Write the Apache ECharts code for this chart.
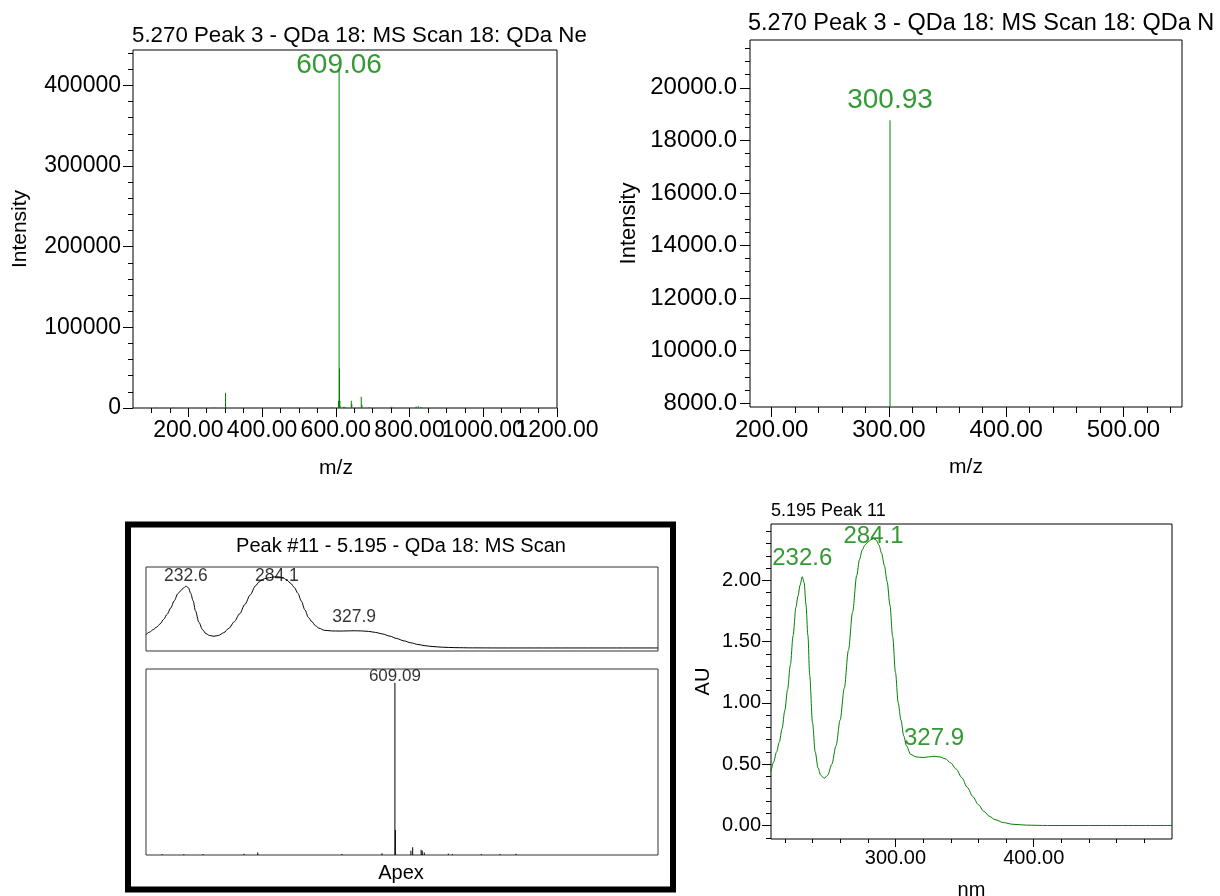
<!DOCTYPE html>
<html>
<head>
<meta charset="utf-8">
<title>QDa MS scan and PDA spectrum</title>
<script src="https://cdn.jsdelivr.net/npm/echarts@6/dist/echarts.min.js"></script>
<style>
  html, body { margin: 0; padding: 0; background: #ffffff; }
  #chart { width: 1220px; height: 896px; }
</style>
</head>
<body>
<div id="chart"></div>
<script>
// ---- MS scan 18, peak 3 at 5.270 min (centroided ions) ----
const scanMz = [113.0, 160.2, 270.1, 300.93, 301.9, 497.2, 590.1, 607.1, 609.06, 610.06, 611.06, 612.1,
  620.0, 625.1, 642.0, 643.5, 669.1, 671.0, 690.2, 750.1, 752.3, 818.0, 824.1, 830.2];
const scanIntensity = [600, 700, 800, 18765, 1500, 600, 900, 9000, 421000, 49000, 9000, 2000,
  1500, 1500, 9000, 5000, 14000, 4000, 1200, 1500, 1200, 2000, 2200, 1200];
const overviewLabelMz = [609.06];
const zoomLabelMz = [300.93];

// ---- Apex MS scan, peak #11 at 5.195 min (relative intensity) ----
const apexMz = [86.0, 135.0, 178.0, 270.0, 301.0, 490.0, 580.0, 609.09, 610.09, 645.0, 649.0,
  668.0, 670.5, 675.0, 729.0, 738.0, 803.0, 845.0, 881.0];
const apexIntensity = [0.5, 0.5, 0.5, 0.7, 1.5, 0.6, 1.0, 100, 14.5, 2.5, 4.5,
  3.0, 2.5, 1.5, 0.8, 0.5, 0.5, 0.6, 0.7];
const apexLabelMz = [609.09];

// ---- PDA spectrum of peak 11 at 5.195 min ----
const uvNm = [210, 212, 214, 216, 218, 220, 222, 224, 226, 228, 229.5, 231, 232.6, 234, 235.3, 236.7,
  238, 240, 242, 244, 246, 248.5, 251, 254, 257, 260, 263, 266, 269, 272, 274, 276, 278, 280, 282,
  284.1, 286, 288, 290, 292, 294, 296, 298, 300, 302, 304, 306, 308, 311, 315, 320, 324, 327.9, 332,
  336, 340, 344, 348, 352, 356, 360, 364, 368, 372, 378, 385, 395, 410, 450, 500];
const uvAu = [0.44, 0.52, 0.60, 0.68, 0.79, 0.94, 1.11, 1.31, 1.55, 1.78, 1.87, 1.96, 2.03, 1.98, 1.80, 1.55,
  1.22, 0.84, 0.60, 0.47, 0.41, 0.385, 0.41, 0.50, 0.65, 0.86, 1.12, 1.43, 1.74, 2.04, 2.17, 2.25, 2.29, 2.31, 2.33,
  2.34, 2.33, 2.29, 2.22, 2.12, 1.99, 1.80, 1.54, 1.25, 1.00, 0.86, 0.73, 0.65, 0.58, 0.56, 0.555, 0.56, 0.565, 0.56,
  0.545, 0.51, 0.46, 0.39, 0.31, 0.235, 0.17, 0.115, 0.075, 0.048, 0.024, 0.01, 0.003, 0.0, 0.0, 0.0];
const uvPeakNm = [232.6, 284.1, 327.9];

// ---- Axis ranges and tick values ----
const overviewMzRange = [50, 1200];
const overviewIntensityRange = [0, 444000];
const overviewMzTicks = [200, 400, 600, 800, 1000, 1200];
const overviewIntensityTicks = [0, 100000, 200000, 300000, 400000];

const zoomMzRange = [181.5, 550];
const zoomIntensityRange = [7850, 21820];
const zoomMzTicks = [200, 300, 400, 500];
const zoomIntensityTicks = [8000, 10000, 12000, 14000, 16000, 18000, 20000];

const apexMzRange = [50, 1200];
const apexIntensityRange = [0, 108];
const insetAuRange = [-0.1, 2.66];

const uvNmRange = [210, 500];
const uvAuRange = [-0.11, 2.46];
const uvNmTicks = [300, 400];
const uvAuTicks = [0, 0.5, 1.0, 1.5, 2.0];

// ---- Drawing ----
const FONT = 'Liberation Sans, Arial, Helvetica, sans-serif';
const GREEN = '#008000';

function steps(from, to, step) {
  const out = [];
  for (let v = from; v <= to + step * 1e-6; v += step) out.push(Math.round(v * 1e6) / 1e6);
  return out;
}

function lookup(xs, ys, x) { return ys[xs.indexOf(x)]; }

const everyOther = (arr, start) => arr.filter((v, i) => i % 2 === start);

function mainAxis(gridIndex, range, ticks, fmt, o) {
  return {
    type: 'value', gridIndex, min: range[0], max: range[1], position: o.position,
    axisLine: { show: false, onZero: false }, splitLine: { show: false },
    axisTick: { show: true, customValues: ticks, length: o.tickLen, lineStyle: { color: '#000', width: 1 } },
    axisLabel: {
      show: true, customValues: o.labels || ticks, formatter: fmt, margin: o.margin,
      fontSize: o.fontSize, color: '#000', fontFamily: FONT,
      hideOverlap: false, showMinLabel: true, showMaxLabel: true
    },
    name: o.name, nameLocation: 'middle', nameGap: o.nameGap,
    nameTextStyle: { fontSize: o.nameSize, color: '#000', fontFamily: FONT, padding: o.namePad || 0 }
  };
}

// second label row on the same baseline, used where neighbouring labels touch
function labelAxis(gridIndex, range, labels, fmt, position, margin, fontSize) {
  return {
    type: 'value', gridIndex, min: range[0], max: range[1], position,
    axisLine: { show: false, onZero: false }, splitLine: { show: false },
    axisTick: { show: false },
    axisLabel: {
      show: true, customValues: labels, formatter: fmt, margin,
      fontSize, color: '#000', fontFamily: FONT,
      hideOverlap: false, showMinLabel: true, showMaxLabel: true
    }
  };
}

function minorAxis(gridIndex, range, ticks, position, len) {
  return {
    type: 'value', gridIndex, min: range[0], max: range[1], position,
    axisLine: { show: false, onZero: false }, splitLine: { show: false },
    axisTick: { show: true, customValues: ticks, length: len, lineStyle: { color: '#000', width: 1 } },
    axisLabel: { show: false }
  };
}

function hiddenAxis(gridIndex, range, position) {
  return {
    type: 'value', gridIndex, min: range[0], max: range[1], position,
    axisLine: { show: false, onZero: false }, splitLine: { show: false },
    axisTick: { show: false }, axisLabel: { show: false }
  };
}

function stickSeries(axisIndex, xs, ys, base, color) {
  return {
    type: 'custom', xAxisIndex: axisIndex[0], yAxisIndex: axisIndex[1], clip: true, silent: true,
    data: xs.map((x, i) => [x, ys[i]]),
    renderItem(params, api) {
      const top = api.coord([api.value(0), api.value(1)]);
      const bottom = api.coord([api.value(0), base]);
      return {
        type: 'line',
        shape: { x1: top[0], y1: bottom[1], x2: top[0], y2: top[1] },
        style: { stroke: color, lineWidth: 1 }
      };
    }
  };
}

function peakLabels(axisIndex, xs, ys, labelled, digits, color, fontSize, lifts) {
  return {
    type: 'scatter', xAxisIndex: axisIndex[0], yAxisIndex: axisIndex[1], silent: true,
    symbolSize: 0, z: 5,
    data: labelled.map((x, i) => ({
      value: [x, lookup(xs, ys, x)],
      label: { offset: [0, -lifts[i]] }
    })),
    label: {
      show: true, position: 'inside', color, fontSize, fontFamily: FONT,
      formatter: p => p.value[0].toFixed(digits)
    }
  };
}

const grids = [
  { left: 133, top: 50, width: 424, height: 358 },   // MS scan overview
  { left: 750, top: 40, width: 432, height: 367 },   // MS scan zoomed
  { left: 146, top: 567, width: 512, height: 84 },   // peak #11 PDA inset
  { left: 146, top: 669, width: 512, height: 186 },  // peak #11 apex MS inset
  { left: 771, top: 524, width: 401, height: 315 }   // peak 11 PDA spectrum
].map(g => Object.assign({ show: true, borderColor: '#000', borderWidth: 1, backgroundColor: 'transparent',
  containLabel: false, outerBoundsMode: 'none' }, g));
grids[2].borderColor = '#333';
grids[3].borderColor = '#333';

const mzFmt = v => v.toFixed(2);

const xAxes = [
  mainAxis(0, overviewMzRange, overviewMzTicks, mzFmt,
    { position: 'bottom', tickLen: 9, margin: 11, fontSize: 23, name: 'm/z', nameGap: 50, nameSize: 21,
      namePad: [0, 18, 0, 0], labels: everyOther(overviewMzTicks, 0) }),
  minorAxis(0, overviewMzRange, steps(100, 1150, 50), 'bottom', 5),
  mainAxis(1, zoomMzRange, zoomMzTicks, mzFmt,
    { position: 'bottom', tickLen: 10, margin: 11, fontSize: 24, name: 'm/z', nameGap: 50, nameSize: 21 }),
  minorAxis(1, zoomMzRange, steps(200, 540, 20), 'bottom', 6),
  hiddenAxis(2, uvNmRange, 'bottom'),
  hiddenAxis(3, apexMzRange, 'bottom'),
  mainAxis(4, uvNmRange, uvNmTicks, v => v.toFixed(2),
    { position: 'bottom', tickLen: 8, margin: 9, fontSize: 20, name: 'nm', nameGap: 41, nameSize: 20 }),
  minorAxis(4, uvNmRange, steps(220, 480, 20), 'bottom', 4),
  labelAxis(0, overviewMzRange, everyOther(overviewMzTicks, 1), mzFmt, 'bottom', 11, 23)
];

const yAxes = [
  mainAxis(0, overviewIntensityRange, overviewIntensityTicks, v => String(v),
    { position: 'left', tickLen: 10, margin: 12, fontSize: 23, name: 'Intensity', nameGap: 102, nameSize: 21 }),
  minorAxis(0, overviewIntensityRange, steps(0, 440000, 20000), 'left', 5),
  mainAxis(1, zoomIntensityRange, zoomIntensityTicks, v => v.toFixed(1),
    { position: 'left', tickLen: 10, margin: 13, fontSize: 24, name: 'Intensity', nameGap: 110, nameSize: 22 }),
  minorAxis(1, zoomIntensityRange, steps(8000, 21500, 500), 'left', 5),
  hiddenAxis(2, insetAuRange, 'left'),
  hiddenAxis(3, apexIntensityRange, 'left'),
  mainAxis(4, uvAuRange, uvAuTicks, v => v.toFixed(2),
    { position: 'left', tickLen: 9, margin: 10, fontSize: 20, name: 'AU', nameGap: 58, nameSize: 20 }),
  minorAxis(4, uvAuRange, steps(-0.1, 2.4, 0.1), 'left', 5)
];

const uvLine = (axisIndex, color) => ({
  type: 'line', xAxisIndex: axisIndex[0], yAxisIndex: axisIndex[1], silent: true,
  data: uvNm.map((x, i) => [x, uvAu[i]]),
  showSymbol: false, smooth: 0.3, smoothMonotone: 'x',
  lineStyle: { color, width: 1 }, clip: true
});

const series = [
  // overview MS scan
  stickSeries([0, 0], scanMz, scanIntensity, overviewIntensityRange[0], GREEN),
  peakLabels([0, 0], scanMz, scanIntensity, overviewLabelMz, 2, GREEN, 28, [3]),
  // zoomed MS scan
  stickSeries([2, 2], scanMz, scanIntensity, zoomIntensityRange[0], GREEN),
  peakLabels([2, 2], scanMz, scanIntensity, zoomLabelMz, 2, GREEN, 28, [20]),
  // peak #11 inset: PDA spectrum
  uvLine([4, 4], '#000'),
  peakLabels([4, 4], uvNm, uvAu, uvPeakNm, 1, '#000', 17.5, [10, 1, 14]),
  // peak #11 inset: apex MS scan
  stickSeries([5, 5], apexMz, apexIntensity, apexIntensityRange[0], '#000'),
  peakLabels([5, 5], apexMz, apexIntensity, apexLabelMz, 2, '#000', 17, [6]),
  // PDA spectrum
  uvLine([6, 6], GREEN),
  peakLabels([6, 6], uvNm, uvAu, uvPeakNm, 1, GREEN, 24, [18, 2, 18])
];

const textStyle = (text, x, y, size, align) => ({
  type: 'text', x, y, silent: true,
  style: { text, fontSize: size, fontFamily: FONT, fill: '#000', align, verticalAlign: 'middle' }
});

const graphic = [
  textStyle('5.270 Peak 3 - QDa 18: MS Scan 18: QDa Ne', 132, 36, 22.3, 'left'),
  { type: 'rect', silent: true, shape: { x: 597, y: 18, width: 40, height: 34 }, style: { fill: '#fff' } },
  textStyle('5.270 Peak 3 - QDa 18: MS Scan 18: QDa N', 748, 24, 23.5, 'left'),
  { type: 'rect', silent: true, shape: { x: 128, y: 524.5, width: 545, height: 365 },
    style: { fill: 'none', stroke: '#000', lineWidth: 6 } },
  textStyle('Peak #11 - 5.195 - QDa 18: MS Scan', 401, 546, 20, 'center'),
  textStyle('Apex', 401, 873, 20, 'center'),
  textStyle('5.195 Peak 11', 771, 511, 18, 'left')
];

const chart = echarts.init(document.getElementById('chart'), null, { renderer: 'canvas' });
chart.setOption({
  animation: false,
  backgroundColor: '#ffffff',
  textStyle: { fontFamily: FONT },
  grid: grids,
  xAxis: xAxes,
  yAxis: yAxes,
  series,
  graphic
});
</script>
</body>
</html>
